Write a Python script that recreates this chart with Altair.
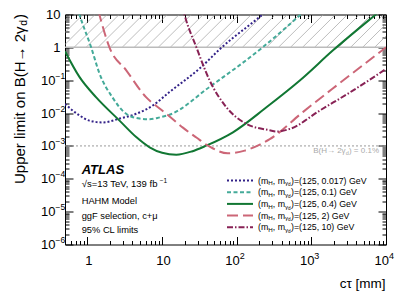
import altair as alt
import pandas as pd

FONT = "Liberation Sans"
W, H = 321, 230

# ---------------- data ----------------
mass_labels = ["0.017", "0.1", "0.4", "2", "10"]
colors = ["#332288", "#44AA99", "#117733", "#CC6677", "#882255"]
dashes = [[2, 2], [4, 2.5], None, [11, 5], [6, 2, 1.5, 2]]

ct_0017 = [0.5, 0.78, 1.06, 1.6, 2.7, 4.5, 7.5, 12.6, 32, 63, 216, 400]
b_0017 = [0.019, 0.0085, 0.0059, 0.0052, 0.0068, 0.0095, 0.017, 0.044, 0.23, 1.0, 9.5, 32]

ct_01 = [0.65, 0.78, 1.12, 1.45, 2.16, 3.3, 5.0, 6.8, 9.3, 12.6, 43, 222, 700, 1100]
b_01 = [40, 10, 1.0, 0.16, 0.030, 0.0095, 0.0068, 0.0065, 0.0074, 0.0089, 0.062, 1.0, 9.5, 25]

ct_04 = [0.5, 0.78, 1.31, 2.69, 4.5, 6.8, 10, 15.5, 25, 39, 89, 250, 700, 1950, 7100, 10000]
b_04 = [0.76, 0.126, 0.030, 0.0059, 0.00186, 0.00091, 0.00062, 0.00054, 0.00068, 0.00102,
        0.0026, 0.015, 0.098, 0.81, 9.5, 18]

ct_2 = [1.24, 1.45, 1.97, 3.31, 6.14, 9.25, 12.6, 19.0, 28.8, 43.4, 75.7, 128, 204, 277, 769, 2180, 10000]
b_2 = [39, 9.7, 1.0, 0.20, 0.030, 0.0138, 0.0079, 0.0036, 0.0018, 0.00095, 0.0006, 0.00072,
       0.0011, 0.0016, 0.0107, 0.069, 1.0]

ct_10 = [17.2, 20, 28.8, 43.4, 72.6, 134, 277, 342, 516, 1300, 3630, 10000]
b_10 = [39, 9.7, 1.0, 0.098, 0.0151, 0.0047, 0.0030, 0.00275, 0.0033, 0.012, 0.049, 0.22]

curves = [(ct_0017, b_0017), (ct_01, b_01), (ct_04, b_04), (ct_2, b_2), (ct_10, b_10)]

x_major = [1, 10, 100, 1000, 10000]
x_ticks = [m * 10 ** k for k in range(-1, 4) for m in range(1, 10) if m * 10 ** k >= 0.5] + [10000]
y_major = [10.0 ** k for k in range(-6, 2)]
y_ticks = [m * 10.0 ** k for k in range(-6, 1) for m in range(1, 10)] + [10.0]

info_lines = ["HAHM Model", "ggF selection, c+\u03bc", "95% CL limits"]

# ---------------- scales / helpers ----------------
xscale = alt.Scale(type="log", domain=[0.5, 10000], nice=False)
yscale = alt.Scale(type="log", domain=[1e-6, 10], nice=False)


def X(f="ct", axis=None):
    return alt.X(f + ":Q", scale=xscale, axis=axis)


def Y(f="B", axis=None):
    return alt.Y(f + ":Q", scale=yscale, axis=axis)


one = pd.DataFrame({"k": [0]})


def txt(s, x, y, size, dx=0, dy=0, align="left", baseline="middle", angle=None,
        color="black", weight="normal", style="normal"):
    kw = dict(text=s, font=FONT, fontSize=size, dx=dx, dy=dy, align=align,
              baseline=baseline, color=color, fontWeight=weight, fontStyle=style)
    if angle is not None:
        kw["angle"] = angle
    return alt.Chart(one).mark_text(**kw).encode(x=alt.value(x), y=alt.value(y))


MAJOR = "abs(log(datum.value)/LN10 - round(log(datum.value)/LN10)) < 0.001"
tick_size = {"condition": {"test": MAJOR, "value": 8}, "value": 4}

layers = []

# hatched excluded region (B > 1)
hx = []
c = 0.15
step = 10 ** (12 / 74.5)
span = 10 ** (33 / 74.5)
while c < 10000:
    hx.append(c)
    c *= step
hatch_df = pd.DataFrame({"c0": hx, "c1": [v * span for v in hx], "y0": 1.0, "y1": 10.0})
layers.append(alt.Chart(hatch_df).mark_rule(color="#a0a0a0", strokeWidth=0.7, clip=True)
              .encode(x=X("c0"), x2="c1", y=Y("y0"), y2="y1"))

layers.append(alt.Chart(pd.DataFrame({"B": [1.0]})).mark_rule(color="#bbbbbb", strokeWidth=1.5)
              .encode(y=Y()))
layers.append(alt.Chart(pd.DataFrame({"B": [1e-3]})).mark_rule(color="#999999", strokeWidth=1, strokeDash=[2, 2])
              .encode(y=Y()))

# curves
for (cts, bs), col, dsh in zip(curves, colors, dashes):
    df = pd.DataFrame({"ct": cts, "B": bs})
    kw = dict(color=col, strokeWidth=2, clip=True, interpolate="monotone")
    if dsh:
        kw["strokeDash"] = dsh
    layers.append(alt.Chart(df).mark_line(**kw).encode(x=X(), y=Y()))

# ---------------- axes ----------------
anchor = pd.DataFrame({"ct": [1.0, 100.0], "B": [1e-3, 1e-2]})


def axis_layer(xaxis, yaxis):
    return alt.Chart(anchor).mark_point(opacity=0).encode(x=X(axis=xaxis), y=Y(axis=yaxis))


common = dict(grid=False, labelFont=FONT, labelColor="black", labelFlush=False,
              labelOverlap=False, labelBound=False)

x_lab = alt.Axis(orient="bottom", values=x_major, ticks=False, domain=False,
                 labelExpr="datum.value < 5 ? '1' : '10'", labelFontSize=13,
                 labelPadding=10, labelBaseline="top",
                 labelAlign={"condition": {"test": "datum.value >= 100", "value": "right"}, "value": "center"},
                 labelOffset={"condition": {"test": "datum.value >= 100", "value": 2.5}, "value": 1},
                 title="c\u03c4 [mm]", titleFont=FONT, titleFontSize=13.5, titleFontWeight="normal",
                 titleColor="black", titleAnchor="end", titleAlign="right", titleBaseline="middle",
                 titleX=320, titleY=38.5, **common)
y_lab = alt.Axis(orient="left", values=y_major, ticks=False, domain=False,
                 labelExpr="abs(datum.value - 1) < 1e-9 ? '1' : '10'", labelFontSize=13,
                 labelAlign="right", labelBaseline="middle",
                 labelPadding={"condition": {"test": "datum.value < 0.5", "value": 10}, "value": 5},
                 title=None, **common)
layers.append(axis_layer(x_lab, y_lab))

x_exp = alt.Axis(orient="bottom", values=[100, 1000, 10000], ticks=False, domain=False,
                 labelExpr="datum.value < 500 ? '2' : (datum.value < 5000 ? '3' : '4')",
                 labelFontSize=9, labelAlign="left", labelOffset=2.5, labelPadding=6.5,
                 labelBaseline="top", title=None, **common)
y_exp = alt.Axis(orient="left", values=y_major[:-2], ticks=False, domain=False,
                 labelExpr="'\u2212' + round(-log(datum.value)/LN10)",
                 labelFontSize=8.5, labelAlign="left", labelPadding=10, labelOffset=-5,
                 labelBaseline="middle", title=None, **common)
layers.append(axis_layer(x_exp, y_exp))

# inward ticks: bottom + left
x_tk1 = alt.Axis(orient="top", offset=-H, values=x_ticks, labels=False, domain=False,
                 ticks=True, tickColor="black", tickWidth=1, tickSize=tick_size, title=None, grid=False)
y_tk1 = alt.Axis(orient="right", offset=-W, values=y_ticks, labels=False, domain=False,
                 ticks=True, tickColor="black", tickWidth=1, tickSize=tick_size, title=None, grid=False)
layers.append(axis_layer(x_tk1, y_tk1))
# inward ticks: top + right
x_tk2 = alt.Axis(orient="bottom", offset=-H, values=x_ticks, labels=False, domain=False,
                 ticks=True, tickColor="black", tickWidth=1, tickSize=tick_size, title=None, grid=False)
y_tk2 = alt.Axis(orient="left", offset=-W, values=y_ticks, labels=False, domain=False,
                 ticks=True, tickColor="black", tickWidth=1, tickSize=tick_size, title=None, grid=False)
layers.append(axis_layer(x_tk2, y_tk2))

# ---------------- y-axis title (with subscript) ----------------
ty_x, ty_y = -45, -0.5
layers.append(txt(")", ty_x, ty_y, 15, angle=270, align="right"))
layers.append(txt("d", ty_x, ty_y, 10.5, dx=-6.0, dy=3.8, angle=270, align="right"))
layers.append(txt("Upper limit on B(H\u2192 2\u03b3", ty_x, ty_y, 15, dx=-12.5, angle=270, align="right"))

# ---------------- 0.1% label ----------------
lx, ly = 314, 136.5
layers.append(txt(") = 0.1%", lx, ly, 8, align="right", color="#aaaaaa"))
layers.append(txt("d", lx, ly, 5.5, dx=-30.3, dy=2, align="right", color="#aaaaaa"))
layers.append(txt("B(H\u2192 2\u03b3", lx, ly, 8, dx=-33.4, align="right", color="#aaaaaa"))

# ---------------- ATLAS block ----------------
ax0 = 16.7
layers.append(txt("ATLAS", ax0, 155.5, 13, weight="bold", style="italic"))
layers.append(txt("\u221as=13 TeV, 139 fb", ax0, 169.8, 9.5))
layers.append(txt("\u22121", ax0, 169.8, 6.5, dx=78.0, dy=-3.5))
for i, s in enumerate(info_lines):
    layers.append(txt(s, ax0, 186.5 + i * 14.5, 9.3))

# ---------------- legend ----------------
for i, (lab, col, dsh) in enumerate(zip(mass_labels, colors, dashes)):
    yy = 166 + i * 11.7
    kw = dict(color=col, strokeWidth=2)
    if dsh:
        kw["strokeDash"] = dsh
    layers.append(alt.Chart(one).mark_rule(**kw).encode(
        x=alt.value(162), x2=alt.value(188), y=alt.value(yy)))
    tx = 193
    layers.append(txt("(m", tx, yy, 8.8))
    layers.append(txt("H", tx, yy, 6.2, dx=10.25, dy=2.6))
    layers.append(txt(", m", tx, yy, 8.8, dx=14.8))
    layers.append(txt("\u03b3", tx, yy, 6.2, dx=27.0, dy=2.6))
    layers.append(txt("d", tx, yy, 4.7, dx=30.1, dy=4.6))
    layers.append(txt(")=(125, " + lab + ") GeV", tx, yy, 8.8, dx=33.0))

chart = (alt.layer(*layers)
         .resolve_axis(x="independent", y="independent")
         .properties(width=W, height=H,
                     autosize=alt.AutoSizeParams(type="none"),
                     padding={"left": 57, "top": 6.5, "right": 13, "bottom": 47})
         .configure_view(stroke="black", strokeWidth=1))

chart.save("out.html", embed_options={"renderer": "svg", "actions": False})
